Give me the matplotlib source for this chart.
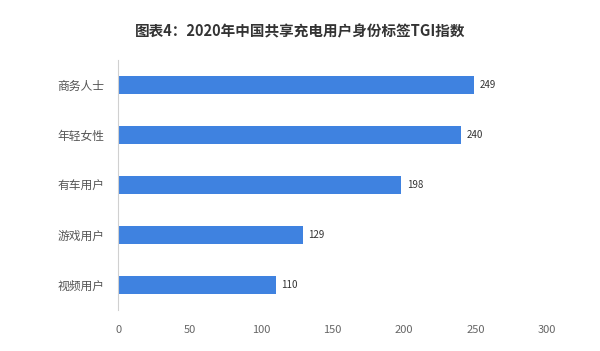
import matplotlib.pyplot as plt

plt.rcParams['font.family'] = ['Noto Sans CJK SC', 'DejaVu Sans']

categories = ['商务人士', '年轻女性', '有车用户', '游戏用户', '视频用户']
tgi = [249, 240, 198, 129, 110]
xticks = [0, 50, 100, 150, 200, 250, 300]

fig = plt.figure(figsize=(6, 3.51), dpi=100)
ax = fig.add_axes([0.197, 0.117, 0.715, 0.712])

y = list(range(len(categories)))
bars = ax.barh(y, tgi, height=0.36, color='#3f82e0')
for b, v in zip(bars, tgi):
    ax.text(b.get_width() + 4, b.get_y() + b.get_height() / 2, str(v),
            va='center', ha='left', fontsize=7, color='#333333')

ax.set_yticks(y)
ax.set_yticklabels(categories, fontsize=8.5, color='#555555')
ax.set_ylim(4.5, -0.5)
ax.set_xlim(0, 300)
ax.set_xticks(xticks)
ax.set_xticklabels([str(t) for t in xticks], fontsize=8, color='#666666')

for s in ['top', 'right', 'bottom']:
    ax.spines[s].set_visible(False)
ax.spines['left'].set_color('#d0d0d0')
ax.tick_params(axis='both', length=0)
ax.tick_params(axis='x', pad=11)
ax.tick_params(axis='y', pad=10)

fig.text(0.5, 0.91, '图表4：2020年中国共享充电用户身份标签TGI指数',
         ha='center', va='center', fontsize=10.5, fontweight='bold', color='#333333')

fig.savefig('out.png', dpi=100)
